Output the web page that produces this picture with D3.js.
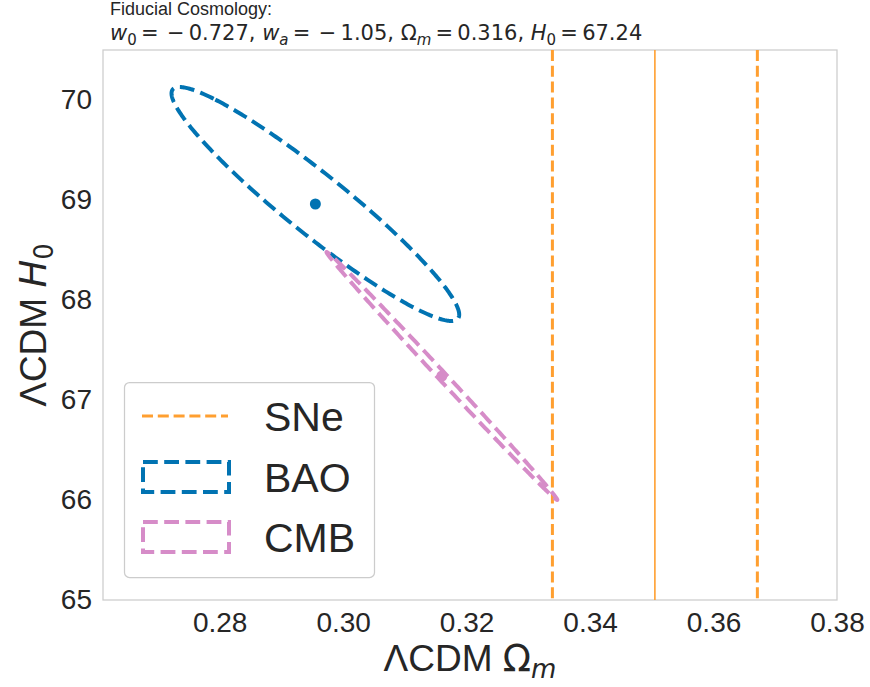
<!DOCTYPE html>
<html>
<head>
<meta charset="utf-8">
<script src="https://cdn.jsdelivr.net/npm/d3@7"></script>
<style>
  html, body { margin: 0; padding: 0; background: #ffffff; }
  svg { display: block; }
</style>
</head>
<body>
<svg id="chart" width="870" height="687"></svg>
<script>
// ---------------- data ----------------
const xTicks = [0.28, 0.30, 0.32, 0.34, 0.36, 0.38];
const yTicks = [65, 66, 67, 68, 69, 70];
const xDomain = [0.2611, 0.38];
const yDomain = [65, 70.5];

// SNe constraint on Omega_m: centre and 1-sigma band
const sneCenter = 0.3505;
const sneSigma = 0.0166;

// Ellipses: [centre Omega_m, centre H0, sigma Omega_m, sigma H0, correlation]
const baoEllipse = [0.2955, 68.96, 0.0233, 1.17, -0.945];
const cmbEllipse = [0.3160, 67.24, 0.0187, 1.24, -0.9988];

const legendLabels = ["SNe", "BAO", "CMB"];

// ---------------- layout ----------------
const plot = { left: 103, right: 837, top: 50, bottom: 600 };
const colors = { sne: "#ff9f30", bao: "#0173b2", cmb: "#d68cc8" };
const textColor = "#262626";
const sansFont = "'Liberation Sans', Arial, sans-serif";
const mathFont = "'DejaVu Sans', sans-serif";
const bigDash = "14.8,6.4";
const smallDash = "11,4.8";

const svg = d3.select("#chart");
const x = d3.scaleLinear().domain(xDomain).range([plot.left, plot.right]);
const y = d3.scaleLinear().domain(yDomain).range([plot.bottom, plot.top]);

// clip
svg.append("defs").append("clipPath").attr("id", "clip")
  .append("rect")
  .attr("x", plot.left).attr("y", plot.top)
  .attr("width", plot.right - plot.left).attr("height", plot.bottom - plot.top);

// ---------------- axes ----------------
const xAxis = svg.append("g")
  .attr("transform", `translate(0,${plot.bottom})`)
  .call(d3.axisBottom(x).tickValues(xTicks).tickFormat(d3.format(".2f")).tickSize(0).tickPadding(12));
const yAxis = svg.append("g")
  .attr("transform", `translate(${plot.left},0)`)
  .call(d3.axisLeft(y).tickValues(yTicks).tickFormat(d3.format("d")).tickSize(0).tickPadding(11));
[xAxis, yAxis].forEach(g => {
  g.select(".domain").remove();
  g.selectAll("text")
    .attr("fill", textColor)
    .style("font-family", sansFont)
    .style("font-size", "28px");
});

// frame
svg.append("rect")
  .attr("x", plot.left).attr("y", plot.top)
  .attr("width", plot.right - plot.left).attr("height", plot.bottom - plot.top)
  .attr("fill", "none").attr("stroke", "#cccccc").attr("stroke-width", 1.25);

const layer = svg.append("g").attr("clip-path", "url(#clip)");

// ---------------- SNe band ----------------
const sneLines = [
  { v: sneCenter - sneSigma, dashed: true },
  { v: sneCenter, dashed: false },
  { v: sneCenter + sneSigma, dashed: true }
];
layer.selectAll("line.sne").data(sneLines).join("line")
  .attr("class", "sne")
  .attr("x1", d => x(d.v)).attr("x2", d => x(d.v))
  .attr("y1", y(yDomain[1])).attr("y2", y(yDomain[0]))
  .attr("stroke", colors.sne)
  .attr("stroke-width", d => d.dashed ? 3 : 1.6)
  .attr("stroke-dasharray", d => d.dashed ? smallDash : null);

// ---------------- ellipses ----------------
function ellipsePoints(e) {
  const [cx, cy, sx, sy, rho] = e;
  const pts = [];
  const n = 360;
  const k = Math.sqrt(1 - rho * rho);
  for (let i = 0; i <= n; i++) {
    const t = Math.PI * 0.75 + 2 * Math.PI * i / n;
    pts.push([cx + sx * Math.cos(t), cy + sy * (rho * Math.cos(t) + k * Math.sin(t))]);
  }
  return pts;
}
const line = d3.line().x(d => x(d[0])).y(d => y(d[1]));

function drawEllipse(e, color) {
  layer.append("circle")
    .attr("cx", x(e[0])).attr("cy", y(e[1])).attr("r", 5.5)
    .attr("fill", color);
  layer.append("path")
    .attr("d", line(ellipsePoints(e)))
    .attr("fill", "none")
    .attr("stroke", color)
    .attr("stroke-width", 4)
    .attr("stroke-dasharray", bigDash)
    .attr("stroke-linejoin", "round");
}
drawEllipse(baoEllipse, colors.bao);
drawEllipse(cmbEllipse, colors.cmb);

// ---------------- legend ----------------
const lg = svg.append("g");
lg.append("rect")
  .attr("x", 124.5).attr("y", 382.5).attr("width", 250).attr("height", 195)
  .attr("rx", 5).attr("ry", 5)
  .attr("fill", "#ffffff").attr("fill-opacity", 0.8)
  .attr("stroke", "#cccccc").attr("stroke-width", 1.25);

const rowY = [416, 477, 537];
lg.append("line")
  .attr("x1", 142).attr("x2", 228).attr("y1", rowY[0]).attr("y2", rowY[0])
  .attr("stroke", colors.sne).attr("stroke-width", 3).attr("stroke-dasharray", smallDash);
[[colors.bao, rowY[1]], [colors.cmb, rowY[2]]].forEach(([c, cy]) => {
  lg.append("rect")
    .attr("x", 143).attr("y", cy - 15).attr("width", 86).attr("height", 30)
    .attr("fill", "none").attr("stroke", c).attr("stroke-width", 4)
    .attr("stroke-dasharray", bigDash);
});
lg.selectAll("text.leg").data(legendLabels).join("text")
  .attr("class", "leg")
  .attr("x", 264).attr("y", (d, i) => rowY[i] + 15)
  .attr("fill", textColor)
  .style("font-family", sansFont).style("font-size", "41px")
  .text(d => d);

// ---------------- axis labels ----------------
const xl = svg.append("text")
  .attr("x", (plot.left + plot.right) / 2).attr("y", 671)
  .attr("text-anchor", "middle").attr("fill", textColor)
  .style("font-family", sansFont).style("font-size", "37px");
xl.append("tspan").text("ΛCDM ");
xl.append("tspan").style("font-family", mathFont).text("Ω");
xl.append("tspan").style("font-family", mathFont).style("font-style", "italic")
  .style("font-size", "26px").attr("dy", 7).text("m");

const yl = svg.append("text")
  .attr("transform", `translate(46,${(plot.top + plot.bottom) / 2}) rotate(-90)`)
  .attr("text-anchor", "middle").attr("fill", textColor)
  .style("font-family", sansFont).style("font-size", "37px");
yl.append("tspan").text("ΛCDM ");
yl.append("tspan").style("font-family", mathFont).style("font-style", "italic").text("H");
yl.append("tspan").style("font-family", mathFont)
  .style("font-size", "26px").attr("dy", 7).text("0");

// ---------------- title ----------------
svg.append("text")
  .attr("x", 110).attr("y", 15)
  .attr("fill", textColor)
  .style("font-family", sansFont).style("font-size", "18px")
  .text("Fiducial Cosmology:");

const tt = svg.append("text")
  .attr("x", 110).attr("y", 40)
  .attr("fill", textColor)
  .style("font-family", mathFont).style("font-size", "21px");
function sym(main, sub, italicMain) {
  tt.append("tspan").style("font-style", italicMain ? "italic" : "normal").text(main);
  tt.append("tspan").style("font-size", "15px").style("font-style", /[a-z]/.test(sub) ? "italic" : "normal")
    .attr("dy", 5).text(sub);
  tt.append("tspan").attr("dy", -5).text("\u2009=\u2009");
}
sym("w", "0", true);  tt.append("tspan").text("\u2009\u2212\u20090.727, ");
sym("w", "a", true);  tt.append("tspan").text("\u2009\u2212\u20091.05, ");
sym("Ω", "m", false); tt.append("tspan").text("0.316, ");
sym("H", "0", true);  tt.append("tspan").text("67.24");
</script>
</body>
</html>
